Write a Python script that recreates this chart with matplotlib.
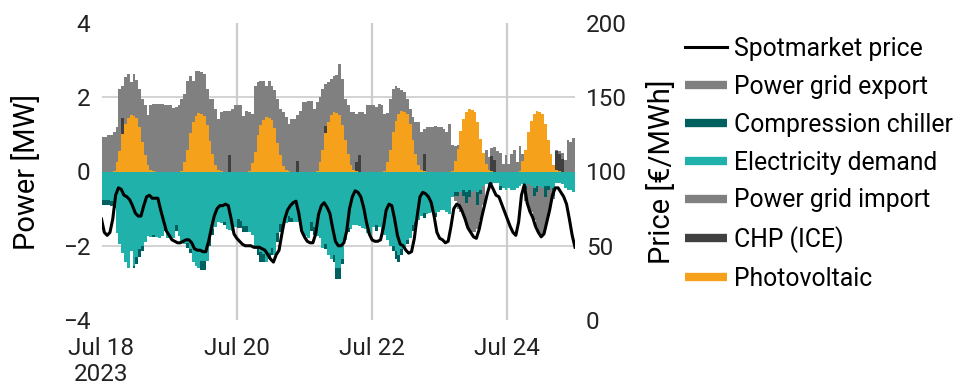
import numpy as np
import pandas as pd
import matplotlib
matplotlib.use("Agg")
import matplotlib.pyplot as plt
import matplotlib.dates as mdates
from matplotlib.lines import Line2D

plt.rcParams['font.family'] = ['Roboto', 'DejaVu Sans']

# hourly values, Jul 18 00:00 .. Jul 24 23:00 (one row per day)
photovoltaic = [
    0, 0, 0, 0, 0.02, 0.25, 0.55, 1.0, 1.28, 1.45, 1.53, 1.5, 1.45, 1.2, 0.8, 0.45, 0.17, 0.04, 0.01, 0, 0, 0, 0, 0,
    0, 0, 0, 0, 0.02, 0.26, 0.57, 1.03, 1.32, 1.5, 1.58, 1.55, 1.5, 1.24, 0.83, 0.46, 0.18, 0.04, 0.01, 0, 0, 0, 0, 0,
    0, 0, 0, 0, 0.02, 0.24, 0.53, 0.97, 1.24, 1.4, 1.48, 1.45, 1.4, 1.16, 0.77, 0.44, 0.16, 0.04, 0.01, 0, 0, 0, 0, 0,
    0, 0, 0, 0, 0.02, 0.26, 0.58, 1.05, 1.34, 1.52, 1.6, 1.57, 1.52, 1.26, 0.84, 0.47, 0.18, 0.04, 0.01, 0, 0, 0, 0, 0,
    0, 0, 0, 0, 0.02, 0.26, 0.58, 1.06, 1.36, 1.54, 1.62, 1.59, 1.54, 1.27, 0.85, 0.48, 0.18, 0.04, 0.01, 0, 0, 0, 0, 0,
    0, 0, 0, 0, 0.02, 0.28, 0.61, 1.1, 1.41, 1.6, 1.69, 1.66, 1.6, 1.33, 0.88, 0.5, 0.19, 0.04, 0.01, 0, 0, 0, 0, 0,
    0, 0, 0, 0, 0.02, 0.27, 0.59, 1.07, 1.37, 1.55, 1.64, 1.61, 1.55, 1.29, 0.86, 0.48, 0.18, 0.04, 0.01, 0, 0, 0, 0, 0,
]
chp = [
    0, 0, 0, 0, 0, 0, 0, 0.45, 0, 0, 0, 0, 0, 0, 0, 0, 0, 0, 0, 0, 0, 0, 0, 0,
    0, 0, 0, 0, 0, 0, 0, 0, 0, 0, 0, 0, 0, 0, 0, 0, 0, 0, 0, 0, 0, 0.45, 0, 0,
    0, 0, 0, 0, 0, 0, 0, 0, 0, 0, 0, 0, 0, 0, 0, 0, 0, 0, 0, 0, 0, 0.27, 0, 0,
    0, 0, 0, 0, 0, 0, 0, 0.18, 0, 0, 0, 0, 0, 0, 0, 0, 0, 0, 0.25, 0.45, 0, 0, 0, 0,
    0, 0, 0, 0, 0, 0, 0, 0, 0, 0, 0, 0, 0, 0, 0, 0, 0, 0, 0.47, 0, 0, 0, 0, 0,
    0, 0, 0, 0, 0, 0, 0, 0, 0, 0, 0, 0, 0, 0, 0, 0, 0, 0, 0.42, 0.3, 0, 0, 0, 0,
    0, 0, 0, 0, 0, 0, 0, 0, 0, 0, 0, 0, 0, 0, 0, 0, 0, 0.5, 0.45, 0.35, 0, 0, 0, 0,
]
grid_import = [
    0.93, 0.93, 0.97, 0.97, 1.04, 0.94, 1.67, 0.86, 1.26, 1.18, 0.87, 1.13, 1.02, 1.02, 1.16, 1.33, 1.34, 1.74, 1.81, 1.82, 1.82, 1.82, 1.8, 1.78,
    1.8, 1.7, 1.75, 1.78, 1.94, 1.84, 1.88, 1.55, 1.13, 1.2, 1.12, 1.13, 1.13, 0.98, 1.13, 1.5, 1.51, 1.38, 1.59, 1.64, 1.64, 1.19, 1.69, 1.78,
    1.78, 1.78, 1.5, 1.64, 1.58, 1.31, 1.77, 1.45, 1.21, 1.05, 0.82, 1.0, 0.9, 1.04, 1.19, 1.25, 1.44, 1.42, 1.27, 1.42, 1.42, 1.24, 1.64, 1.86,
    1.86, 1.91, 1.91, 1.69, 1.84, 1.74, 1.64, 1.13, 1.06, 0.97, 0.98, 1.03, 1.38, 1.24, 1.11, 1.31, 1.42, 1.56, 1.29, 1.15, 1.6, 1.55, 1.78, 1.78,
    1.78, 1.74, 1.82, 1.78, 1.53, 1.32, 1.38, 1.16, 0.95, 0.71, 0.58, 0.56, 0.42, 0.42, 0.61, 0.85, 1.15, 1.02, 0.67, 1.19, 1.19, 1.19, 1.22, 1.19,
    1.19, 1.15, 1.06, 1.28, 0.7, 0.42, 0.1, 0, 0, 0, 0, 0, 0, 0, 0, 0, 0.4, 0.36, 0.19, 0.36, 0.56, 0.5, 0.2, 0.45,
    0.21, 0.48, 0.57, 0.25, 0.68, 0.2, 0, 0, 0, 0, 0, 0, 0, 0, 0, 0, 0, 0.05, 0.1, 0.15, 0.3, 0.86, 0.8, 0.9,
]
electricity_demand = [
    0.78, 0.76, 0.78, 0.8, 0.85, 1.65, 1.95, 2.2, 2.45, 2.6, 2.15, 2.55, 2.3, 2.1, 2.0, 1.9, 1.75, 1.77, 1.72, 1.77, 1.78, 1.75, 1.5, 1.8,
    1.78, 1.78, 1.45, 1.75, 1.92, 1.95, 1.92, 2.1, 2.43, 2.55, 2.6, 2.4, 2.4, 2.4, 1.8, 1.55, 1.5, 1.36, 1.38, 1.35, 1.55, 1.58, 1.6, 1.5,
    1.28, 1.33, 1.47, 1.47, 1.62, 1.7, 2.1, 2.05, 2.18, 2.23, 2.43, 2.2, 2.05, 2.25, 1.65, 1.42, 1.45, 1.4, 1.21, 1.26, 1.36, 1.36, 1.45, 1.7,
    1.75, 1.78, 1.35, 1.5, 1.75, 1.8, 2.05, 1.95, 2.25, 2.35, 2.25, 2.6, 2.6, 2.35, 1.85, 1.52, 1.55, 1.45, 1.45, 1.48, 1.53, 1.55, 1.65, 1.7,
    1.5, 1.45, 1.5, 1.55, 1.7, 1.85, 2.0, 2.0, 2.15, 2.25, 2.1, 2.05, 1.85, 1.8, 1.45, 1.35, 1.3, 1.2, 1.12, 1.15, 1.12, 1.1, 1.12, 1.08,
    1.05, 1.05, 1.08, 1.15, 0.7, 0.55, 0.55, 0.55, 0.5, 0.55, 0.5, 0.55, 0.5, 0.55, 0.5, 0.4, 0.35, 0.3, 0.35, 0.3, 0.3, 0.4, 0.45, 0.5,
    0.45, 0.5, 0.5, 0.45, 0.4, 0.35, 0.4, 0.35, 0.4, 0.45, 0.4, 0.4, 0.45, 0.4, 0.4, 0.45, 0.45, 0.3, 0.3, 0.35, 0.45, 0.5, 0.5, 0.55,
]
compression_chiller = [
    0.13, 0.14, 0.12, 0.12, 0.12, 0, 0, 0, 0, 0, 0, 0.05, 0.2, 0.2, 0.15, 0, 0, 0, 0.05, 0, 0, 0, 0.1, 0,
    0, 0, 0.15, 0, 0, 0, 0.15, 0.1, 0, 0, 0, 0.25, 0.25, 0, 0.2, 0.15, 0, 0, 0, 0.1, 0, 0, 0, 0,
    0.25, 0.2, 0.15, 0.15, 0, 0, 0, 0.2, 0.25, 0.2, 0, 0.15, 0.2, 0, 0.25, 0.2, 0, 0, 0.15, 0.1, 0, 0, 0, 0,
    0, 0, 0.25, 0.2, 0, 0, 0, 0.15, 0, 0, 0.2, 0.3, 0.3, 0.15, 0, 0.1, 0, 0, 0, 0, 0, 0, 0, 0,
    0, 0.15, 0, 0.2, 0, 0, 0, 0.15, 0.2, 0.2, 0.15, 0, 0.1, 0, 0.15, 0.15, 0, 0, 0.12, 0, 0, 0, 0.1, 0,
    0, 0, 0, 0, 0, 0.1, 0.1, 0, 0.15, 0.3, 0.2, 0, 0, 0.35, 0.1, 0, 0, 0.1, 0, 0, 0, 0.1, 0, 0,
    0, 0, 0, 0, 0, 0, 0.1, 0, 0, 0.2, 0.15, 0, 0, 0.3, 0.1, 0, 0.2, 0, 0, 0, 0, 0, 0, 0,
]
grid_export = [
    0, 0, 0, 0, 0, 0, 0, 0, 0, 0, 0, 0, 0, 0, 0, 0, 0, 0, 0, 0, 0, 0, 0, 0,
    0, 0, 0, 0, 0, 0, 0, 0, 0, 0, 0, 0, 0, 0, 0, 0, 0, 0, 0, 0, 0, 0, 0, 0,
    0, 0, 0, 0, 0, 0, 0, 0, 0, 0, 0, 0, 0, 0, 0, 0, 0, 0, 0, 0, 0, 0, 0, 0,
    0, 0, 0, 0, 0, 0, 0, 0, 0, 0, 0, 0, 0, 0, 0, 0, 0, 0, 0, 0, 0, 0, 0, 0,
    0, 0, 0, 0, 0, 0, 0, 0, 0, 0, 0, 0, 0, 0, 0, 0, 0, 0, 0, 0, 0, 0, 0, 0,
    0, 0, 0, 0, 0, 0.15, 0.35, 0.55, 0.55, 0.6, 0.9, 1.07, 1.12, 0.65, 0.7, 0.5, 0, 0, 0, 0, 0, 0, 0, 0,
    0, 0, 0, 0, 0, 0, 0.3, 0.6, 0.7, 0.65, 0.95, 1.25, 1.25, 0.85, 0.7, 0.4, 0.1, 0, 0, 0, 0, 0, 0, 0,
]
# spot market price, hourly points Jul 18 00:00 .. Jul 25 00:00
spot_price = [
    68, 59, 57, 59, 68, 84, 89, 88, 84, 83, 81, 77, 72, 70, 70, 77, 83, 84, 82, 82, 82, 74, 67, 60,
    57, 54, 53, 52, 52, 53, 54, 54, 52, 48, 47, 47, 46, 46, 53, 62, 70, 75, 77, 77, 78, 77, 68, 58,
    55, 53, 51, 50, 50, 50, 49, 49, 49, 48, 47, 44, 41, 39, 44, 47, 58, 68, 74, 77, 79, 80, 72, 60,
    56, 53, 52, 52, 58, 71, 77, 79, 76, 72, 62, 53, 50, 50, 52, 60, 75, 83, 87, 86, 83, 76, 66, 58,
    54, 53, 53, 54, 62, 74, 78, 77, 68, 57, 51, 50, 47, 45, 46, 55, 70, 83, 86, 85, 83, 79, 70, 59,
    55, 54, 52, 53, 63, 75, 78, 77, 73, 68, 62, 59, 56, 55, 61, 70, 78, 86, 92, 88, 84, 83, 78, 73,
    68, 63, 59, 57, 66, 84, 91, 79, 73, 69, 63, 59, 56, 58, 66, 74, 84, 89, 89, 86, 83, 78, 68, 57,
    49,
]
tick_dates = ["2023-07-18", "2023-07-20", "2023-07-22", "2023-07-24"]
tick_labels = ["Jul 18\n2023", "Jul 20", "Jul 22", "Jul 24"]

hours = mdates.date2num(pd.date_range("2023-07-18", periods=len(photovoltaic), freq="h"))
price_hours = mdates.date2num(pd.date_range("2023-07-18", periods=len(spot_price), freq="h"))
w = 1 / 24

c_gray = "#808080"
c_chp = "#404040"
c_pv = "#F5A11C"
c_dem = "#20B2AA"
c_chil = "#005F5F"

fig = plt.figure(figsize=(9.59, 3.90), dpi=100)
ax = fig.add_axes([101.5 / 959, 70 / 390, 473.5 / 959, 297 / 390])

pv = np.array(photovoltaic)
ch = np.array(chp)
dem = np.array(electricity_demand)
chil = np.array(compression_chiller)

kw = dict(width=w, align="edge", linewidth=0, antialiased=False, zorder=2)
ax.bar(hours, pv, color=c_pv, **kw)
ax.bar(hours, ch, bottom=pv, color=c_chp, **kw)
ax.bar(hours, grid_import, bottom=pv + ch, color=c_gray, **kw)
ax.bar(hours, -dem, color=c_dem, **kw)
ax.bar(hours, -chil, bottom=-dem, color=c_chil, **kw)
ax.bar(hours, -np.array(grid_export), bottom=-dem - chil, color=c_gray, **kw)

ax.set_xlim(price_hours[0], price_hours[-1])
ax.set_ylim(-4, 4)
ax.set_yticks([-4, -2, 0, 2, 4])
ax.set_xticks(mdates.date2num(pd.to_datetime(tick_dates)))
ax.set_xticklabels(tick_labels)
for y in [-2, 2]:
    ax.axhline(y, color="#cccccc", lw=1.2, zorder=0)
for d in tick_dates[1:]:
    ax.axvline(mdates.date2num(pd.Timestamp(d)), color="#cccccc", lw=1.6, zorder=0)
for s in ax.spines.values():
    s.set_visible(False)
ax.tick_params(length=0, labelsize=17.5, colors="#222222", pad=8)
ax.tick_params(axis="x", pad=12)
ax.set_ylabel("Power [MW]", fontsize=21, labelpad=16)

ax2 = ax.twinx()
ax2.plot(price_hours, spot_price, color="black", lw=2.2, zorder=5)
ax2.set_ylim(0, 200)
ax2.set_yticks([0, 50, 100, 150, 200])
for s in ax2.spines.values():
    s.set_visible(False)
ax2.tick_params(length=0, labelsize=17.5, colors="#222222", pad=8)
ax2.set_ylabel("Price [€/MWh]", fontsize=21, labelpad=14)

handles = [
    Line2D([0], [0], color="black", lw=2.2),
    Line2D([0], [0], color=c_gray, lw=6, solid_capstyle="butt"),
    Line2D([0], [0], color=c_chil, lw=6, solid_capstyle="butt"),
    Line2D([0], [0], color=c_dem, lw=6, solid_capstyle="butt"),
    Line2D([0], [0], color=c_gray, lw=6, solid_capstyle="butt"),
    Line2D([0], [0], color=c_chp, lw=6, solid_capstyle="butt"),
    Line2D([0], [0], color=c_pv, lw=6, solid_capstyle="butt"),
]
labels = ["Spotmarket price", "Power grid export", "Compression chiller",
          "Electricity demand", "Power grid import", "CHP (ICE)", "Photovoltaic"]
fig.legend(handles, labels, loc="upper left", bbox_to_anchor=(685 / 959, 1 - 37 / 390),
           frameon=False, fontsize=17.8, handlelength=1.7, handletextpad=0.3,
           labelspacing=0.56, borderaxespad=0, borderpad=0)

fig.savefig("out.png", dpi=100)
